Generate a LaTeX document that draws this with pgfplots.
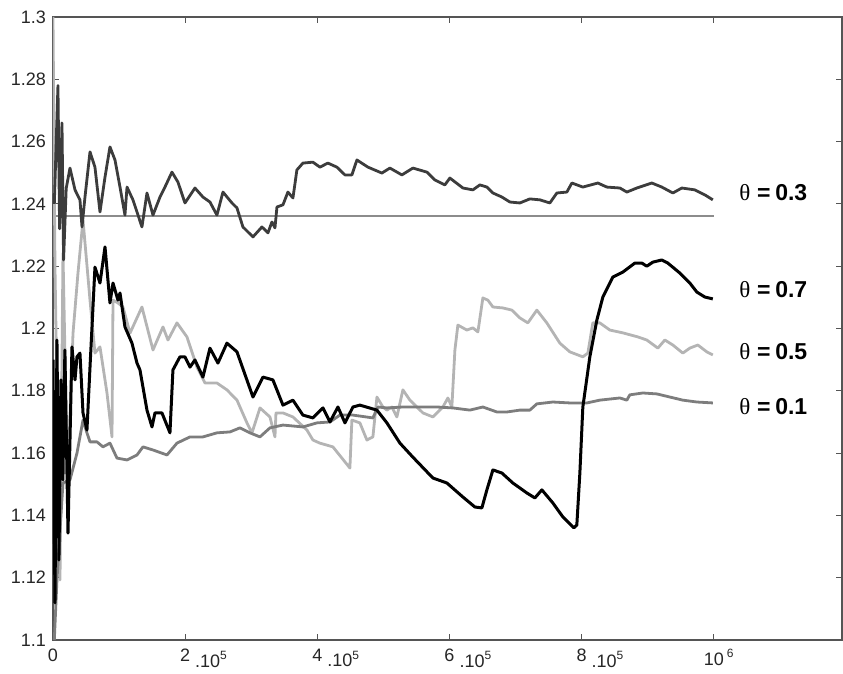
\documentclass[border=0pt]{standalone}
\usepackage{fontspec}
\setmainfont{Liberation Sans}
\newfontfamily\thetafont{Liberation Serif}
\usepackage{pgfplots}
\pgfplotsset{compat=1.18}

\definecolor{cdark}{RGB}{60,60,60}
\definecolor{cmid}{RGB}{125,125,125}
\definecolor{clight}{RGB}{180,180,180}
\definecolor{cref}{RGB}{140,140,140}
\definecolor{caxis}{RGB}{85,85,85}

\newcommand{\xl}[1]{\makebox[0pt][l]{\hspace{-0.278em}#1\ \raisebox{-0.3em}{.10\textsuperscript{5}}}}
\newcommand{\thlab}[1]{\fontsize{11.5}{13}\selectfont{\thetafont\char"03B8}\hspace{0.3em}\textbf{=\hspace{0.2em}#1}}

\begin{document}
\begin{tikzpicture}
\begin{axis}[
    scale only axis,
    width=394.5pt, height=311.5pt,
    xmin=0, xmax=11.94,
    ymin=1.1, ymax=1.3,
    axis line style={caxis, line width=0.7pt},
    tick align=inside,
    major tick length=3pt,
    tick style={caxis, line width=0.5pt},
    xtick={0,2,4,6,8,10},
    xticklabels={0,\xl{2},\xl{4},\xl{6},\xl{8},{\makebox[0pt][l]{\hspace{-0.556em}10\,\textsuperscript{6}}}},
    ytick={1.1,1.12,1.14,1.16,1.18,1.2,1.22,1.24,1.26,1.28,1.3},
    yticklabels={1.1,1.12,1.14,1.16,1.18,1.2,1.22,1.24,1.26,1.28,1.3},
    ticklabel style={font=\fontsize{9}{10}\selectfont, text=black!85},
    xticklabel style={yshift=-1pt},
    /pgf/number format/assume math mode=true,
    every axis plot/.append style={line join=round},
    clip=true,
]
% reference level
\addplot[cref, line width=0.7pt] coordinates {(0,1.2361) (10,1.2361)};

% theta = 0.5
\addplot[clight, line width=1.4pt] coordinates {
(0.0,1.3) (0.03,1.2197) (0.106,1.1193) (0.151,1.2242) (0.22,1.15) (0.303,1.1985) (0.378,1.2178)
(0.454,1.2348) (0.56,1.2091) (0.635,1.1921) (0.711,1.1941) (0.817,1.1793) (0.893,1.1652)
(0.908,1.2091) (0.983,1.2082) (1.059,1.2069) (1.165,1.1985) (1.346,1.2069) (1.513,1.1931)
(1.664,1.2005) (1.74,1.1963) (1.876,1.2018) (2.027,1.1973) (2.179,1.1876) (2.3,1.1825)
(2.481,1.1825) (2.632,1.1803) (2.784,1.177) (2.935,1.1697) (3.011,1.1665) (3.132,1.1745)
(3.283,1.1716) (3.359,1.1652) (3.374,1.1729) (3.48,1.1729) (3.631,1.1716) (3.843,1.1674)
(3.933,1.1642) (4.039,1.1632) (4.236,1.162) (4.493,1.1552) (4.523,1.1706) (4.644,1.1697)
(4.75,1.1642) (4.841,1.1652) (4.902,1.178) (4.992,1.1748) (5.053,1.1738) (5.129,1.1748)
(5.204,1.1716) (5.295,1.1803) (5.401,1.177) (5.507,1.1748) (5.598,1.1729) (5.749,1.1716)
(5.9,1.1748) (5.976,1.1777) (6.036,1.1748) (6.082,1.1931) (6.127,1.2011) (6.263,1.1995)
(6.354,1.2002) (6.43,1.1989) (6.505,1.2098) (6.581,1.2091) (6.657,1.2069) (6.808,1.2066)
(6.944,1.2059) (7.065,1.2034) (7.186,1.2018) (7.322,1.2059) (7.473,1.2018) (7.67,1.1953)
(7.821,1.1925) (8.018,1.1909) (8.094,1.1921) (8.169,1.2018) (8.275,1.2018) (8.427,1.1995)
(8.623,1.1986) (8.85,1.1973) (8.986,1.1963) (9.153,1.1937) (9.259,1.1963) (9.38,1.1947)
(9.531,1.1921) (9.637,1.1937) (9.758,1.1947) (9.894,1.1925) (9.985,1.1915)
};

% theta = 0.1
\addplot[cmid, line width=1.4pt] coordinates {
(0.02,1.10) (0.06,1.1193) (0.151,1.1504) (0.257,1.1514) (0.363,1.16) (0.454,1.1706)
(0.514,1.1665) (0.56,1.1636) (0.666,1.1636) (0.756,1.162) (0.862,1.1632) (0.968,1.1584)
(1.12,1.1578) (1.271,1.1594) (1.362,1.162) (1.513,1.161) (1.725,1.1594) (1.876,1.1632)
(2.073,1.1652) (2.269,1.1652) (2.481,1.1665) (2.678,1.1668) (2.829,1.1681) (2.98,1.1665)
(3.132,1.1652) (3.283,1.1681) (3.48,1.169) (3.782,1.1684) (3.994,1.1697) (4.191,1.17)
(4.342,1.1722) (4.539,1.1722) (4.841,1.1713) (4.917,1.1748) (5.053,1.1745) (5.295,1.1748)
(5.552,1.1748) (5.809,1.1748) (6.051,1.1745) (6.309,1.1738) (6.505,1.1748) (6.717,1.1732)
(6.868,1.1732) (7.065,1.1738) (7.216,1.1738) (7.322,1.1758) (7.564,1.1764) (7.821,1.1761)
(8.079,1.1761) (8.275,1.177) (8.578,1.1777) (8.684,1.177) (8.729,1.1787) (8.926,1.1793)
(9.138,1.179) (9.334,1.178) (9.531,1.177) (9.743,1.1764) (9.985,1.1761)
};

% theta = 0.3
\addplot[cdark, line width=1.4pt] coordinates {
(0.02,1.24) (0.075,1.278) (0.1,1.232) (0.136,1.266) (0.16,1.222) (0.2,1.245) (0.257,1.2515)
(0.333,1.2445) (0.408,1.2413) (0.439,1.2326) (0.484,1.2422) (0.56,1.2567) (0.635,1.2518)
(0.711,1.2374) (0.787,1.2486) (0.862,1.2583) (0.938,1.2541) (1.014,1.2454) (1.089,1.2364)
(1.12,1.2454) (1.21,1.2413) (1.346,1.2326) (1.422,1.2435) (1.513,1.2364) (1.619,1.2422)
(1.694,1.2454) (1.8,1.2502) (1.891,1.247) (1.997,1.2403) (2.148,1.2451) (2.269,1.2422)
(2.375,1.2406) (2.481,1.2364) (2.572,1.2438) (2.708,1.2403) (2.784,1.2387) (2.874,1.2326)
(3.026,1.2294) (3.162,1.2326) (3.253,1.2307) (3.313,1.2342) (3.359,1.2323) (3.389,1.239)
(3.48,1.2397) (3.555,1.2438) (3.631,1.2419) (3.691,1.2509) (3.782,1.2531) (3.933,1.2534)
(4.039,1.2518) (4.16,1.2531) (4.296,1.2518) (4.418,1.2493) (4.523,1.2493) (4.599,1.2541)
(4.766,1.2518) (4.977,1.2499) (5.098,1.2515) (5.28,1.2493) (5.446,1.2515) (5.658,1.2502)
(5.779,1.2477) (5.93,1.2461) (6.006,1.2483) (6.203,1.2451) (6.354,1.2445) (6.46,1.2461)
(6.566,1.2454) (6.657,1.2435) (6.793,1.2422) (6.914,1.2406) (7.065,1.2403) (7.216,1.2416)
(7.368,1.2413) (7.519,1.2403) (7.625,1.2435) (7.776,1.2438) (7.852,1.2467) (8.018,1.2454)
(8.245,1.2467) (8.381,1.2454) (8.578,1.2451) (8.684,1.2438) (8.835,1.2451) (9.062,1.2467)
(9.213,1.2454) (9.38,1.2435) (9.516,1.2451) (9.713,1.2445) (9.864,1.2429) (9.985,1.2413)
};

% theta = 0.7
\addplot[black, line width=1.5pt] coordinates {
(0.0,1.19) (0.03,1.1119) (0.06,1.1963) (0.09,1.1257) (0.12,1.1835) (0.15,1.1514)
(0.18,1.1931) (0.227,1.1343) (0.287,1.1941) (0.333,1.1835) (0.363,1.1909) (0.408,1.1921)
(0.454,1.1729) (0.514,1.1674) (0.56,1.1876) (0.635,1.2197) (0.711,1.2146) (0.787,1.2262)
(0.862,1.2082) (0.908,1.2146) (0.983,1.2091) (1.014,1.2114) (1.089,1.2005) (1.195,1.1953)
(1.271,1.1889) (1.316,1.1867) (1.422,1.1738) (1.498,1.1684) (1.543,1.1729) (1.649,1.1729)
(1.77,1.1665) (1.815,1.1867) (1.921,1.1909) (1.997,1.1909) (2.073,1.1876) (2.148,1.1899)
(2.269,1.1844) (2.375,1.1937) (2.496,1.1889) (2.632,1.1953) (2.784,1.1925) (3.026,1.178)
(3.177,1.1844) (3.328,1.1835) (3.48,1.1754) (3.631,1.177) (3.782,1.1722) (3.933,1.1713)
(4.085,1.1745) (4.191,1.17) (4.312,1.1748) (4.418,1.1697) (4.539,1.1748) (4.644,1.1754)
(4.902,1.1738) (5.053,1.1697) (5.25,1.1632) (5.446,1.1587) (5.749,1.152) (5.961,1.1504)
(6.203,1.1459) (6.384,1.1427) (6.49,1.1424) (6.566,1.1482) (6.657,1.1546) (6.793,1.1536)
(6.959,1.1504) (7.171,1.1472) (7.292,1.1456) (7.398,1.1482) (7.564,1.144) (7.716,1.1395)
(7.882,1.136) (7.927,1.1369) (7.973,1.1536) (8.018,1.1748) (8.124,1.1909) (8.23,1.2027)
(8.321,1.2101) (8.472,1.2165) (8.623,1.2181) (8.805,1.221) (8.911,1.221) (8.986,1.22)
(9.077,1.2213) (9.213,1.222) (9.304,1.221) (9.486,1.2178) (9.637,1.2146) (9.743,1.2117)
(9.864,1.2101) (9.985,1.2095)
};

\node[anchor=west, inner sep=0pt] at (axis cs:10.38,1.2435) {\thlab{0.3}};
\node[anchor=west, inner sep=0pt] at (axis cs:10.38,1.2124) {\thlab{0.7}};
\node[anchor=west, inner sep=0pt] at (axis cs:10.38,1.1925) {\thlab{0.5}};
\node[anchor=west, inner sep=0pt] at (axis cs:10.38,1.1748) {\thlab{0.1}};

\coordinate (bl) at (rel axis cs:0,0);
\coordinate (tr) at (rel axis cs:1,1);
\end{axis}
\pgfresetboundingbox
\path ([shift={(-26.5pt,-16.5pt)}]bl) rectangle ([shift={(0.5pt,8.5pt)}]tr);
\end{tikzpicture}
\end{document}
